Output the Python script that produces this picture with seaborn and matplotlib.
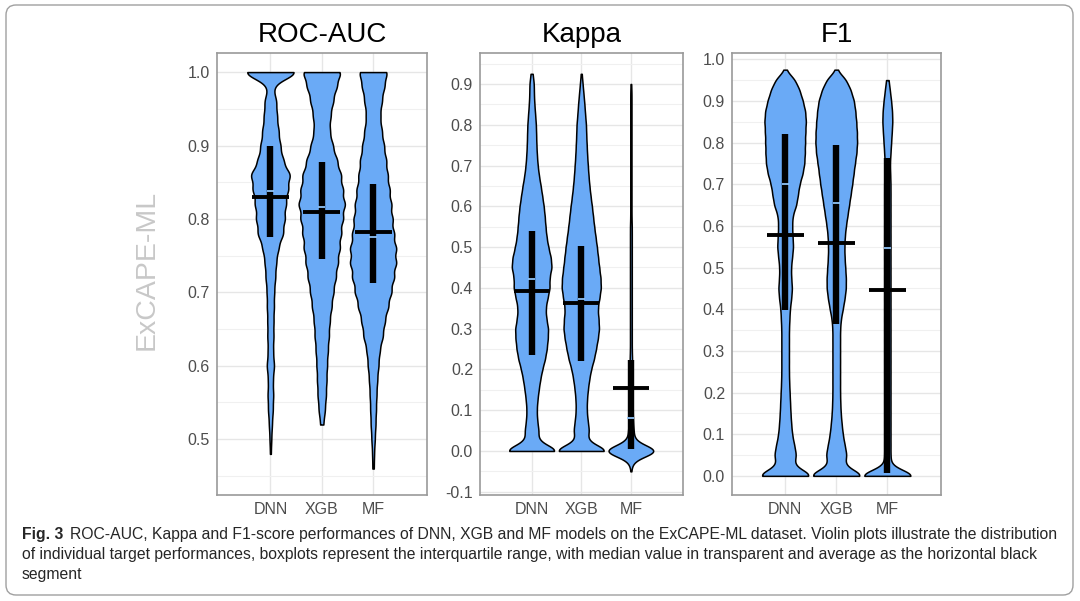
import numpy as np
import pandas as pd
import matplotlib
matplotlib.use("Agg")
import matplotlib.pyplot as plt
import seaborn as sns
from matplotlib.patches import FancyBboxPatch
from matplotlib.ticker import FormatStrFormatter

# models on the x axis
MODELS = ["DNN", "XGB", "MF"]

# violin profiles: number of targets per score bin
ROC_GRID = np.round(np.arange(0.46, 1.001, 0.02), 3)
ROC_DNN = [0, 2, 4, 7, 11, 13, 11, 17, 12, 14, 14, 16, 17, 22, 26, 36, 58, 65, 70, 80,
           90, 58, 45, 37, 30, 27, 12, 125]
ROC_XGB = [0, 0, 0, 6, 12, 16, 18, 20, 23, 27, 30, 37, 44, 53, 61, 68, 73, 80, 88, 80,
           73, 58, 42, 30, 33, 43, 56, 75]
ROC_MF = [3, 4, 7, 10, 12, 14, 17, 22, 27, 40, 48, 62, 75, 86, 95, 95, 86, 80, 75, 68,
          60, 54, 45, 36, 29, 36, 46, 60]

KAPPA_GRID = np.round(np.arange(-0.05, 0.926, 0.025), 3)
KAPPA_DNN = [0, 0, 119, 25, 28, 22, 20, 23, 28, 34, 42, 53, 60, 64, 66, 58, 55, 63, 72, 70,
             80, 76, 66, 59, 55, 52, 48, 42, 36, 29, 24, 21, 19, 18, 17, 14, 11, 9, 9, 4]
KAPPA_XGB = [0, 0, 133, 25, 35, 28, 24, 25, 29, 35, 43, 56, 65, 73, 79, 76, 72, 80, 87, 85,
             79, 74, 69, 63, 57, 52, 47, 41, 36, 32, 29, 26, 24, 22, 21, 17, 14, 10, 6, 2]
KAPPA_MF = [1, 6, 100, 12, 9, 7, 6, 6, 5, 5, 4, 4, 3, 3, 3, 3, 3, 3, 3, 3,
            3, 3, 3, 3, 3, 2, 2, 2, 2, 2, 2, 2, 2, 2, 2, 2, 2, 2, 1, 0]

F1_GRID = np.round(np.arange(0.0, 0.976, 0.025), 3)
F1_DNN = [136, 37, 50, 40, 31, 27, 24, 22, 20, 18, 17, 17, 17, 17, 17, 19, 21, 27, 31, 27,
          26, 31, 36, 33, 31, 33, 50, 57, 64, 78, 86, 88, 89, 90, 93, 90, 79, 65, 45, 2]
F1_XGB = [136, 35, 47, 37, 29, 24, 20, 18, 17, 17, 17, 17, 17, 17, 17, 20, 29, 37, 43, 43,
          40, 37, 36, 38, 43, 50, 57, 64, 71, 77, 83, 90, 93, 92, 89, 85, 79, 65, 45, 2]
F1_MF = [100, 11, 10, 10, 10, 10, 10, 10, 10, 10, 10, 10, 10, 10, 10, 10, 10, 10, 10, 10,
         10, 10, 10, 10, 10, 10, 10, 10, 10, 9, 8, 10, 12, 14, 16, 15, 12, 8, 4, 0]

# box (IQR), median and mean per model
ROC_Q1 = [0.775, 0.745, 0.713]
ROC_Q3 = [0.900, 0.877, 0.848]
ROC_MED = [0.838, 0.816, 0.776]
ROC_MEAN = [0.830, 0.810, 0.782]

KAPPA_Q1 = [0.236, 0.221, 0.005]
KAPPA_Q3 = [0.540, 0.502, 0.222]
KAPPA_MED = [0.422, 0.372, 0.082]
KAPPA_MEAN = [0.392, 0.364, 0.154]

F1_Q1 = [0.398, 0.365, 0.006]
F1_Q3 = [0.820, 0.795, 0.762]
F1_MED = [0.700, 0.655, 0.546]
F1_MEAN = [0.578, 0.558, 0.446]

VIOLIN = "#6aaaf6"
MEDIAN = "#8ec2f7"

sns.set_style("white")
plt.rcParams["font.family"] = ["Liberation Sans", "DejaVu Sans"]


def long_table(grid, counts):
    rows = []
    for model, c in zip(MODELS, counts):
        vals = np.repeat(grid, c)
        rows.append(pd.DataFrame({"model": model, "value": vals}))
    return pd.concat(rows, ignore_index=True)


panels = [
    ("ROC-AUC", long_table(ROC_GRID, [ROC_DNN, ROC_XGB, ROC_MF]), 0.0095,
     (0.424, 1.026), np.arange(0.5, 1.01, 0.1), np.arange(0.45, 1.0, 0.1),
     ROC_Q1, ROC_Q3, ROC_MED, ROC_MEAN, [217, 427]),
    ("Kappa", long_table(KAPPA_GRID, [KAPPA_DNN, KAPPA_XGB, KAPPA_MF]), 0.014,
     (-0.108, 0.976), np.arange(-0.1, 0.91, 0.1), np.arange(-0.05, 0.96, 0.1),
     KAPPA_Q1, KAPPA_Q3, KAPPA_MED, KAPPA_MEAN, [480, 683]),
    ("F1", long_table(F1_GRID, [F1_DNN, F1_XGB, F1_MF]), 0.014,
     (-0.046, 1.015), np.arange(0.0, 1.01, 0.1), np.arange(0.05, 1.0, 0.1),
     F1_Q1, F1_Q3, F1_MED, F1_MEAN, [732, 941]),
]

fig = plt.figure(figsize=(10.8, 6.01), dpi=100)
W, H = 1080, 601

for title, df, bw, ylim, major, minor, q1, q3, med, mean, (x0, x1) in panels:
    ax = fig.add_axes([x0 / W, 106 / H, (x1 - x0) / W, 442 / H])
    for m in MODELS:
        sub = df[df["model"] == m]
        sns.violinplot(data=sub, x="model", y="value", order=MODELS, ax=ax,
                       color=VIOLIN, saturation=1, linecolor="black", linewidth=1.1,
                       inner=None, cut=0, density_norm="width", width=0.9,
                       bw_method=bw / sub["value"].std(), gridsize=400)
    pos = np.arange(len(MODELS))
    ax.vlines(pos, q1, q3, colors="black", lw=4.6, zorder=4, capstyle="butt")
    ax.hlines(med, pos - 0.07, pos + 0.07, colors=MEDIAN, lw=1.3, zorder=5)
    ax.hlines(mean, pos - 0.36, pos + 0.36, colors="black", lw=2.8, zorder=6)

    ax.set_xlim(-1.04, 3.05)
    ax.set_ylim(*ylim)
    ax.set_yticks(major)
    ax.set_yticks(minor, minor=True)
    ax.yaxis.set_major_formatter(FormatStrFormatter("%.1f"))
    ax.set_xticks(pos)
    ax.set_xticklabels(MODELS)
    ax.grid(True, which="major", color="#e6e6e6", lw=1.0)
    ax.grid(True, which="minor", axis="y", color="#f0f0f0", lw=0.8)
    ax.set_axisbelow(True)
    ax.set_xlabel("")
    ax.set_ylabel("")
    ax.tick_params(axis="both", which="major", length=3, width=0.8, color="#555555",
                   labelcolor="#4d4d4d", labelsize=11.5, pad=2)
    ax.tick_params(axis="y", which="minor", length=0)
    for s in ax.spines.values():
        s.set_visible(True)
        s.set_color("#9a9a9a")
        s.set_linewidth(1.2)
    ax.set_title(title, fontsize=20, pad=8, color="black")

fig.text(147 / W, 1 - 270 / H, "ExCAPE-ML", rotation=90, fontsize=20.5, color="#c8c8c8",
         ha="center", va="center")

# caption
fig.text(22 / W, 1 - 534 / H, "Fig. 3", fontsize=11.3, fontweight="bold", va="center")
fig.text(70 / W, 1 - 534 / H,
         "ROC-AUC, Kappa and F1-score performances of DNN, XGB and MF models on the "
         "ExCAPE-ML dataset. Violin plots illustrate the distribution",
         fontsize=11.3, va="center")
fig.text(22 / W, 1 - 555 / H,
         "of individual target performances, boxplots represent the interquartile range, "
         "with median value in transparent and average as the horizontal black",
         fontsize=11.3, va="center")
fig.text(22 / W, 1 - 575 / H, "segment", fontsize=11.3, va="center")

frame = FancyBboxPatch((0.06, 0.06), 10.67, 5.90, boxstyle="round,pad=0,rounding_size=0.1",
                       transform=fig.dpi_scale_trans, fill=False, edgecolor="#a0a0a0", lw=1.0)
fig.patches.append(frame)

fig.savefig("out.png", dpi=100)
